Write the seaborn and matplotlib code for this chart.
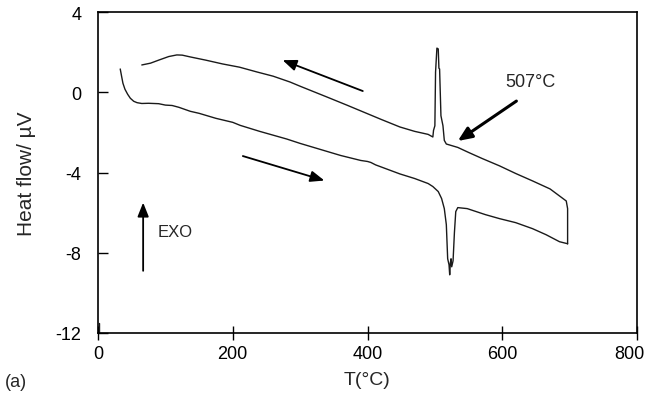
import numpy as np
import pandas as pd
import matplotlib
matplotlib.use("Agg")
import matplotlib.pyplot as plt
import matplotlib.transforms as mtransforms
import seaborn as sns

# ---- data ----
heat_T = [33, 35, 37, 40, 44, 48, 53, 58, 65, 75, 90, 100, 110, 120, 137, 150, 175, 200, 211,
          240, 280, 300, 330, 360, 390, 400, 405, 412, 420, 448, 470, 490, 497, 505, 510,
          514, 517, 519, 521, 522, 523, 524, 525, 527, 529, 531, 534, 548, 575, 596, 620,
          645, 665, 685, 697]
heat_Q = [1.16, 0.8, 0.45, 0.15, -0.1, -0.3, -0.45, -0.52, -0.56, -0.55, -0.57, -0.64, -0.66,
          -0.75, -0.95, -1.05, -1.3, -1.5, -1.65, -1.95, -2.33, -2.55, -2.85, -3.15, -3.4,
          -3.45, -3.5, -3.62, -3.72, -4.07, -4.3, -4.55, -4.7, -4.95, -5.3, -5.8, -6.6,
          -8.3, -8.6, -9.1, -8.5, -8.3, -8.7, -8.4, -7.0, -5.95, -5.75, -5.8, -6.1, -6.3,
          -6.5, -6.8, -7.1, -7.45, -7.55]

cool_T = [697, 697, 695, 685, 671, 645, 620, 596, 570, 550, 534, 524, 517, 514, 512, 509,
          507, 506, 505, 503, 501, 500, 498, 497, 490, 470, 448, 420, 400, 370, 340, 300,
          285, 260, 236, 210, 185, 160, 137, 125, 117, 105, 90, 78, 65]
cool_Q = [-7.56, -5.8, -5.42, -5.17, -4.82, -4.42, -4.05, -3.67, -3.3, -3.0, -2.75, -2.65,
          -2.58, -2.4, -1.67, -1.17, 1.16, 1.2, 2.16, 2.2, 1.0, -1.67, -1.9, -2.23, -2.1,
          -1.95, -1.73, -1.35, -1.07, -0.65, -0.24, 0.30, 0.51, 0.8, 1.01, 1.25, 1.41, 1.6,
          1.76, 1.85, 1.86, 1.78, 1.6, 1.45, 1.36]

edge_T = [2, 2]
edge_Q = [-12.0, -11.5]

x_ticks = [0, 200, 400, 600, 800]
y_ticks = [-12, -8, -4, 0, 4]

heat = pd.DataFrame({"T": heat_T, "Q": heat_Q})
cool = pd.DataFrame({"T": cool_T, "Q": cool_Q})
edge = pd.DataFrame({"T": edge_T, "Q": edge_Q})

sns.set_theme(style="ticks")
plt.rcParams["font.family"] = ["Liberation Sans", "DejaVu Sans"]

fig = plt.figure(figsize=(6.46, 4.02), dpi=100)
ax = fig.add_axes([98 / 646, 1 - 334 / 402, (637 - 98) / 646, (334 - 13) / 402])

line_kw = dict(estimator=None, sort=False, color="#1a1a1a", linewidth=1.0, ax=ax)
sns.lineplot(data=heat, x="T", y="Q", **line_kw)
sns.lineplot(data=cool, x="T", y="Q", **line_kw)
sns.lineplot(data=edge, x="T", y="Q", **line_kw)

ax.set_xlim(0, 800)
ax.set_ylim(-12, 4)
ax.set_xticks(x_ticks)
ax.set_yticks(y_ticks)
ax.set_xticklabels([str(v) for v in x_ticks], fontsize=13)
ax.set_yticklabels([str(v) for v in y_ticks], fontsize=13)
ax.tick_params(axis="x", direction="inout", length=10, width=1.0, pad=4, colors="black")
ax.tick_params(axis="y", direction="in", length=7, width=1.0, pad=12, colors="black")
for s in ax.spines.values():
    s.set_visible(True)
    s.set_color("black")
    s.set_linewidth(1.2)

# keep the last x label inside the figure, as in the reference
last = ax.get_xticklabels()[-1]
last.set_transform(last.get_transform() + mtransforms.ScaledTranslation(-8 / 100, 0, fig.dpi_scale_trans))

ax.set_xlabel("T(°C)", fontsize=14, labelpad=6)
ax.set_ylabel("Heat flow/ µV", fontsize=15, labelpad=14)

# arrows
akw = dict(arrowstyle="-|>,head_length=0.7,head_width=0.28", color="black", lw=1.3,
           shrinkA=0, shrinkB=0)
ax.annotate("", xy=(274, 1.6), xytext=(393, 0.06), arrowprops=akw)
ax.annotate("", xy=(336, -4.4), xytext=(215, -3.18), arrowprops=akw)
ax.annotate("", xy=(67, -5.5), xytext=(67, -8.9), arrowprops=akw)
ax.annotate("", xy=(534, -2.43), xytext=(621, -0.44),
            arrowprops=dict(arrowstyle="-|>,head_length=0.7,head_width=0.3",
                            color="black", lw=2.2, shrinkA=0, shrinkB=0))
ax.text(88, -6.96, "EXO", fontsize=12, va="center", ha="left")
ax.text(605, 0.56, "507°C", fontsize=13, va="center", ha="left")

fig.text(5 / 646, 1 - 383 / 402, "(a)", fontsize=13, va="center", ha="left")

fig.savefig("out.png", dpi=100)
